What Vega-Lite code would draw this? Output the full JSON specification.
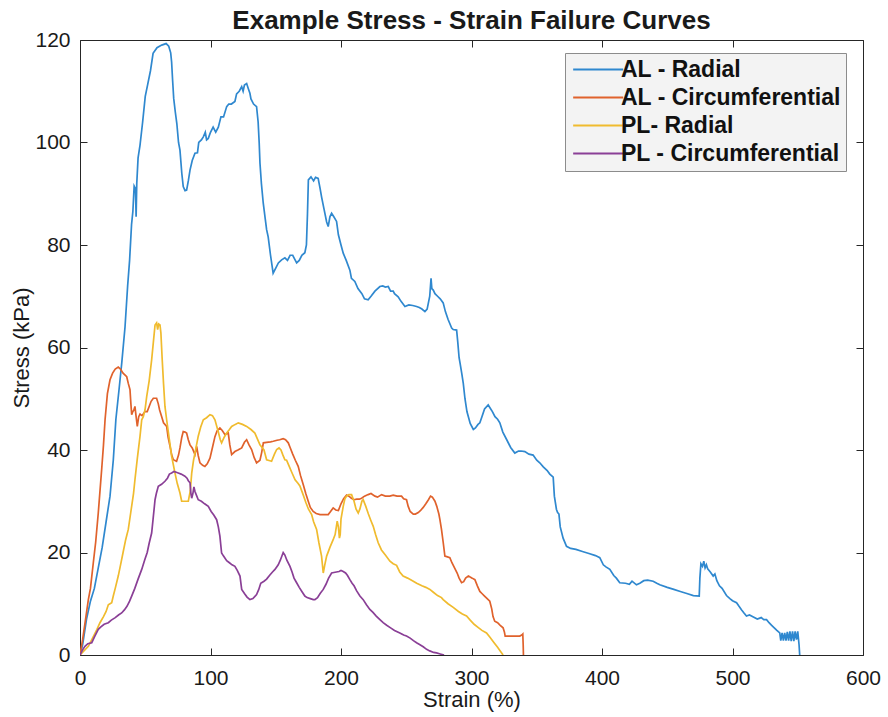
{
"$schema": "https://vega.github.io/schema/vega-lite/v6.json",
"width": 783, "height": 615,
"autosize": {"type": "none"},
"padding": {"left": 80, "top": 40, "right": 25, "bottom": 62},
"background": "white",
"title": {"text": "Example Stress - Strain Failure Curves", "font": "Liberation Sans", "fontSize": 26, "fontWeight": "bold", "color": "#1a1a1a", "anchor": "middle", "offset": 9, "dy": 14},
"config": {
  "view": {"stroke": "#262626", "strokeWidth": 1},
  "axis": {"domain": false, "grid": false, "tickColor": "#262626", "tickSize": -7, "tickWidth": 1, "labelFlush": false,
    "labelFont": "Liberation Sans", "labelFontSize": 21, "labelColor": "#1a1a1a",
    "titleFont": "Liberation Sans", "titleFontSize": 22, "titleFontWeight": "normal", "titleColor": "#1a1a1a"}
},
"data": {"values": [
{"series":"AL - Radial","strain":0,"stress":0},{"series":"AL - Radial","strain":2,"stress":2},{"series":"AL - Radial","strain":5,"stress":7},{"series":"AL - Radial","strain":8,"stress":10.5},{"series":"AL - Radial","strain":11,"stress":13},{"series":"AL - Radial","strain":14,"stress":17},{"series":"AL - Radial","strain":17,"stress":21},{"series":"AL - Radial","strain":20,"stress":26},{"series":"AL - Radial","strain":23,"stress":31},{"series":"AL - Radial","strain":25.5,"stress":38},{"series":"AL - Radial","strain":27.5,"stress":46},{"series":"AL - Radial","strain":30,"stress":52},{"series":"AL - Radial","strain":32,"stress":57},{"series":"AL - Radial","strain":34.5,"stress":64},{"series":"AL - Radial","strain":36.5,"stress":72},{"series":"AL - Radial","strain":38,"stress":77},{"series":"AL - Radial","strain":39.5,"stress":84},{"series":"AL - Radial","strain":40.5,"stress":86.5},{"series":"AL - Radial","strain":41.5,"stress":91.5},{"series":"AL - Radial","strain":42.5,"stress":91},{"series":"AL - Radial","strain":43,"stress":85.5},{"series":"AL - Radial","strain":43.5,"stress":92},{"series":"AL - Radial","strain":44.5,"stress":97},{"series":"AL - Radial","strain":46,"stress":99.5},{"series":"AL - Radial","strain":48,"stress":104},{"series":"AL - Radial","strain":50,"stress":109},{"series":"AL - Radial","strain":52,"stress":111.5},{"series":"AL - Radial","strain":54,"stress":114},{"series":"AL - Radial","strain":56,"stress":117.4},{"series":"AL - Radial","strain":59,"stress":118.5},{"series":"AL - Radial","strain":62.6,"stress":119},{"series":"AL - Radial","strain":66,"stress":119.3},{"series":"AL - Radial","strain":68,"stress":118.8},{"series":"AL - Radial","strain":69.5,"stress":117.5},{"series":"AL - Radial","strain":70.2,"stress":115.7},{"series":"AL - Radial","strain":71,"stress":112},{"series":"AL - Radial","strain":71.8,"stress":108.6},{"series":"AL - Radial","strain":73,"stress":106},{"series":"AL - Radial","strain":74.2,"stress":103.7},{"series":"AL - Radial","strain":75.5,"stress":100},{"series":"AL - Radial","strain":76.6,"stress":98.5},{"series":"AL - Radial","strain":78,"stress":94},{"series":"AL - Radial","strain":79.1,"stress":91.4},{"series":"AL - Radial","strain":80.5,"stress":90.6},{"series":"AL - Radial","strain":81.7,"stress":90.7},{"series":"AL - Radial","strain":83,"stress":92.5},{"series":"AL - Radial","strain":84.3,"stress":94.6},{"series":"AL - Radial","strain":86,"stress":96.5},{"series":"AL - Radial","strain":88.1,"stress":97.9},{"series":"AL - Radial","strain":90,"stress":98},{"series":"AL - Radial","strain":91,"stress":100},{"series":"AL - Radial","strain":93,"stress":100.5},{"series":"AL - Radial","strain":94.5,"stress":101.1},{"series":"AL - Radial","strain":96,"stress":102},{"series":"AL - Radial","strain":97,"stress":100.5},{"series":"AL - Radial","strain":98.3,"stress":100.8},{"series":"AL - Radial","strain":100,"stress":102},{"series":"AL - Radial","strain":102,"stress":103},{"series":"AL - Radial","strain":104,"stress":102},{"series":"AL - Radial","strain":106,"stress":103},{"series":"AL - Radial","strain":108,"stress":105},{"series":"AL - Radial","strain":110,"stress":105},{"series":"AL - Radial","strain":112.4,"stress":107},{"series":"AL - Radial","strain":114,"stress":107.5},{"series":"AL - Radial","strain":116,"stress":107.5},{"series":"AL - Radial","strain":118.7,"stress":108},{"series":"AL - Radial","strain":120,"stress":109.5},{"series":"AL - Radial","strain":122,"stress":110},{"series":"AL - Radial","strain":123.9,"stress":110.9},{"series":"AL - Radial","strain":125,"stress":110},{"series":"AL - Radial","strain":126,"stress":111.2},{"series":"AL - Radial","strain":127.7,"stress":111.5},{"series":"AL - Radial","strain":129,"stress":110.5},{"series":"AL - Radial","strain":130.2,"stress":109.6},{"series":"AL - Radial","strain":131,"stress":108.5},{"series":"AL - Radial","strain":133,"stress":107.5},{"series":"AL - Radial","strain":135.3,"stress":107},{"series":"AL - Radial","strain":136.5,"stress":104},{"series":"AL - Radial","strain":137.3,"stress":100},{"series":"AL - Radial","strain":137.9,"stress":96},{"series":"AL - Radial","strain":139,"stress":92},{"series":"AL - Radial","strain":140.4,"stress":88.2},{"series":"AL - Radial","strain":142,"stress":85},{"series":"AL - Radial","strain":143,"stress":83},{"series":"AL - Radial","strain":144.2,"stress":81.6},{"series":"AL - Radial","strain":146,"stress":78},{"series":"AL - Radial","strain":148,"stress":74.5},{"series":"AL - Radial","strain":150,"stress":75.5},{"series":"AL - Radial","strain":152,"stress":76.5},{"series":"AL - Radial","strain":154.5,"stress":77.1},{"series":"AL - Radial","strain":157,"stress":77.5},{"series":"AL - Radial","strain":159,"stress":77},{"series":"AL - Radial","strain":161,"stress":78},{"series":"AL - Radial","strain":163,"stress":78},{"series":"AL - Radial","strain":165,"stress":77},{"series":"AL - Radial","strain":166,"stress":76.5},{"series":"AL - Radial","strain":168,"stress":77},{"series":"AL - Radial","strain":170,"stress":78},{"series":"AL - Radial","strain":172.3,"stress":78.5},{"series":"AL - Radial","strain":173.5,"stress":80},{"series":"AL - Radial","strain":174.3,"stress":86},{"series":"AL - Radial","strain":175,"stress":92.7},{"series":"AL - Radial","strain":177,"stress":93.3},{"series":"AL - Radial","strain":179,"stress":92.5},{"series":"AL - Radial","strain":180.5,"stress":93.2},{"series":"AL - Radial","strain":182.5,"stress":93},{"series":"AL - Radial","strain":184,"stress":91},{"series":"AL - Radial","strain":185.1,"stress":89.4},{"series":"AL - Radial","strain":187,"stress":87},{"series":"AL - Radial","strain":189,"stress":84.5},{"series":"AL - Radial","strain":190.2,"stress":83.6},{"series":"AL - Radial","strain":191.5,"stress":85.5},{"series":"AL - Radial","strain":192.8,"stress":86.2},{"series":"AL - Radial","strain":194.5,"stress":85.5},{"series":"AL - Radial","strain":196.6,"stress":84.6},{"series":"AL - Radial","strain":198,"stress":82},{"series":"AL - Radial","strain":200,"stress":80},{"series":"AL - Radial","strain":201.7,"stress":78.4},{"series":"AL - Radial","strain":204,"stress":77},{"series":"AL - Radial","strain":206.8,"stress":75.1},{"series":"AL - Radial","strain":208,"stress":73.5},{"series":"AL - Radial","strain":210.6,"stress":72.9},{"series":"AL - Radial","strain":213,"stress":71.5},{"series":"AL - Radial","strain":216,"stress":70.5},{"series":"AL - Radial","strain":218,"stress":69.5},{"series":"AL - Radial","strain":220.8,"stress":69.3},{"series":"AL - Radial","strain":223,"stress":70},{"series":"AL - Radial","strain":226,"stress":71},{"series":"AL - Radial","strain":229.8,"stress":71.9},{"series":"AL - Radial","strain":232,"stress":72},{"series":"AL - Radial","strain":234,"stress":71.8},{"series":"AL - Radial","strain":236.2,"stress":71.9},{"series":"AL - Radial","strain":238,"stress":71},{"series":"AL - Radial","strain":240,"stress":71},{"series":"AL - Radial","strain":241,"stress":70.5},{"series":"AL - Radial","strain":243.8,"stress":69.9},{"series":"AL - Radial","strain":246,"stress":69},{"series":"AL - Radial","strain":249,"stress":68},{"series":"AL - Radial","strain":252,"stress":68.3},{"series":"AL - Radial","strain":255,"stress":68.2},{"series":"AL - Radial","strain":257.9,"stress":68},{"series":"AL - Radial","strain":260,"stress":67.8},{"series":"AL - Radial","strain":262,"stress":67.5},{"series":"AL - Radial","strain":264.3,"stress":67},{"series":"AL - Radial","strain":266,"stress":67.5},{"series":"AL - Radial","strain":268,"stress":70},{"series":"AL - Radial","strain":269,"stress":73.5},{"series":"AL - Radial","strain":269.6,"stress":71.5},{"series":"AL - Radial","strain":270.7,"stress":71.2},{"series":"AL - Radial","strain":272,"stress":70.5},{"series":"AL - Radial","strain":274,"stress":70},{"series":"AL - Radial","strain":276,"stress":69.5},{"series":"AL - Radial","strain":278.3,"stress":68.7},{"series":"AL - Radial","strain":280,"stress":67},{"series":"AL - Radial","strain":282,"stress":65.5},{"series":"AL - Radial","strain":284.8,"stress":63.8},{"series":"AL - Radial","strain":286,"stress":63.5},{"series":"AL - Radial","strain":288.6,"stress":63.4},{"series":"AL - Radial","strain":289.5,"stress":61},{"series":"AL - Radial","strain":290.5,"stress":58},{"series":"AL - Radial","strain":291.2,"stress":57},{"series":"AL - Radial","strain":292.5,"stress":55},{"series":"AL - Radial","strain":293.7,"stress":53},{"series":"AL - Radial","strain":295,"stress":50},{"series":"AL - Radial","strain":296.5,"stress":47.5},{"series":"AL - Radial","strain":297.6,"stress":46.5},{"series":"AL - Radial","strain":299,"stress":45.2},{"series":"AL - Radial","strain":301.4,"stress":44},{"series":"AL - Radial","strain":303,"stress":44.3},{"series":"AL - Radial","strain":305,"stress":45},{"series":"AL - Radial","strain":306.4,"stress":45.3},{"series":"AL - Radial","strain":308,"stress":46.5},{"series":"AL - Radial","strain":310,"stress":48},{"series":"AL - Radial","strain":312.8,"stress":48.8},{"series":"AL - Radial","strain":314,"stress":48.3},{"series":"AL - Radial","strain":316,"stress":47.5},{"series":"AL - Radial","strain":318,"stress":46.5},{"series":"AL - Radial","strain":320,"stress":46},{"series":"AL - Radial","strain":321.7,"stress":45.3},{"series":"AL - Radial","strain":324,"stress":43.5},{"series":"AL - Radial","strain":327,"stress":42},{"series":"AL - Radial","strain":330,"stress":40.5},{"series":"AL - Radial","strain":333.2,"stress":39.4},{"series":"AL - Radial","strain":336,"stress":39.8},{"series":"AL - Radial","strain":338,"stress":39.8},{"series":"AL - Radial","strain":340.9,"stress":39.7},{"series":"AL - Radial","strain":344,"stress":39.2},{"series":"AL - Radial","strain":347.2,"stress":39},{"series":"AL - Radial","strain":350,"stress":38},{"series":"AL - Radial","strain":352.3,"stress":37.5},{"series":"AL - Radial","strain":355,"stress":36.7},{"series":"AL - Radial","strain":358,"stress":36},{"series":"AL - Radial","strain":360,"stress":35.3},{"series":"AL - Radial","strain":362.6,"stress":34.7},{"series":"AL - Radial","strain":363.5,"stress":31},{"series":"AL - Radial","strain":365.1,"stress":28.4},{"series":"AL - Radial","strain":366,"stress":27.8},{"series":"AL - Radial","strain":367,"stress":27.5},{"series":"AL - Radial","strain":368,"stress":25},{"series":"AL - Radial","strain":370.2,"stress":22.8},{"series":"AL - Radial","strain":372.8,"stress":21.2},{"series":"AL - Radial","strain":376,"stress":20.8},{"series":"AL - Radial","strain":380,"stress":20.6},{"series":"AL - Radial","strain":385,"stress":20.2},{"series":"AL - Radial","strain":390,"stress":19.8},{"series":"AL - Radial","strain":395,"stress":19.4},{"series":"AL - Radial","strain":398.3,"stress":19},{"series":"AL - Radial","strain":401,"stress":17.6},{"series":"AL - Radial","strain":403,"stress":17.2},{"series":"AL - Radial","strain":406,"stress":16.7},{"series":"AL - Radial","strain":409,"stress":15.5},{"series":"AL - Radial","strain":411,"stress":15},{"series":"AL - Radial","strain":413.6,"stress":14.1},{"series":"AL - Radial","strain":418,"stress":14},{"series":"AL - Radial","strain":421,"stress":13.8},{"series":"AL - Radial","strain":423,"stress":14.4},{"series":"AL - Radial","strain":426.4,"stress":13.7},{"series":"AL - Radial","strain":429,"stress":14},{"series":"AL - Radial","strain":432,"stress":14.5},{"series":"AL - Radial","strain":435,"stress":14.6},{"series":"AL - Radial","strain":439.2,"stress":14.4},{"series":"AL - Radial","strain":442,"stress":14},{"series":"AL - Radial","strain":444.3,"stress":13.7},{"series":"AL - Radial","strain":450,"stress":13.2},{"series":"AL - Radial","strain":455,"stress":12.8},{"series":"AL - Radial","strain":460,"stress":12.4},{"series":"AL - Radial","strain":465,"stress":12},{"series":"AL - Radial","strain":470,"stress":11.6},{"series":"AL - Radial","strain":474.5,"stress":11.5},{"series":"AL - Radial","strain":475,"stress":15},{"series":"AL - Radial","strain":475.8,"stress":17.8},{"series":"AL - Radial","strain":477,"stress":17.3},{"series":"AL - Radial","strain":478,"stress":18.3},{"series":"AL - Radial","strain":479,"stress":17},{"series":"AL - Radial","strain":480,"stress":17.6},{"series":"AL - Radial","strain":481,"stress":16.8},{"series":"AL - Radial","strain":483,"stress":16.2},{"series":"AL - Radial","strain":485.2,"stress":15.4},{"series":"AL - Radial","strain":486.5,"stress":15.8},{"series":"AL - Radial","strain":488,"stress":14.5},{"series":"AL - Radial","strain":490,"stress":13.5},{"series":"AL - Radial","strain":492,"stress":13},{"series":"AL - Radial","strain":495.4,"stress":11.6},{"series":"AL - Radial","strain":498,"stress":11},{"series":"AL - Radial","strain":500,"stress":10.6},{"series":"AL - Radial","strain":503.1,"stress":10.2},{"series":"AL - Radial","strain":505,"stress":9.5},{"series":"AL - Radial","strain":507,"stress":8.8},{"series":"AL - Radial","strain":508.5,"stress":8.3},{"series":"AL - Radial","strain":510.7,"stress":7.6},{"series":"AL - Radial","strain":513,"stress":7.8},{"series":"AL - Radial","strain":516,"stress":7.4},{"series":"AL - Radial","strain":519,"stress":7},{"series":"AL - Radial","strain":522,"stress":7.3},{"series":"AL - Radial","strain":524,"stress":6.9},{"series":"AL - Radial","strain":526.1,"stress":6.9},{"series":"AL - Radial","strain":528,"stress":6.3},{"series":"AL - Radial","strain":530,"stress":5.8},{"series":"AL - Radial","strain":532,"stress":5.3},{"series":"AL - Radial","strain":534,"stress":4.8},{"series":"AL - Radial","strain":536.2,"stress":4.3},{"series":"AL - Radial","strain":537,"stress":2.8},{"series":"AL - Radial","strain":538,"stress":4.3},{"series":"AL - Radial","strain":539,"stress":2.8},{"series":"AL - Radial","strain":540,"stress":4.3},{"series":"AL - Radial","strain":541,"stress":2.8},{"series":"AL - Radial","strain":542,"stress":4.5},{"series":"AL - Radial","strain":543,"stress":2.8},{"series":"AL - Radial","strain":544,"stress":4.6},{"series":"AL - Radial","strain":545,"stress":2.7},{"series":"AL - Radial","strain":546,"stress":4.6},{"series":"AL - Radial","strain":547,"stress":2.7},{"series":"AL - Radial","strain":548,"stress":4.6},{"series":"AL - Radial","strain":549,"stress":3},{"series":"AL - Radial","strain":550,"stress":4.6},{"series":"AL - Radial","strain":551,"stress":2},{"series":"AL - Radial","strain":551.5,"stress":0},
{"series":"AL - Circumferential","strain":0,"stress":0},{"series":"AL - Circumferential","strain":2,"stress":3},{"series":"AL - Circumferential","strain":4,"stress":6.5},{"series":"AL - Circumferential","strain":6.4,"stress":10.8},{"series":"AL - Circumferential","strain":8,"stress":13},{"series":"AL - Circumferential","strain":10.2,"stress":18},{"series":"AL - Circumferential","strain":12,"stress":22},{"series":"AL - Circumferential","strain":14,"stress":27.7},{"series":"AL - Circumferential","strain":16.6,"stress":36.2},{"series":"AL - Circumferential","strain":18,"stress":41},{"series":"AL - Circumferential","strain":19.2,"stress":45.9},{"series":"AL - Circumferential","strain":21,"stress":51},{"series":"AL - Circumferential","strain":23,"stress":53.7},{"series":"AL - Circumferential","strain":25,"stress":55},{"series":"AL - Circumferential","strain":27,"stress":55.8},{"series":"AL - Circumferential","strain":29.3,"stress":56.2},{"series":"AL - Circumferential","strain":31,"stress":55.8},{"series":"AL - Circumferential","strain":33,"stress":55},{"series":"AL - Circumferential","strain":35.8,"stress":54.3},{"series":"AL - Circumferential","strain":37,"stress":53},{"series":"AL - Circumferential","strain":38.3,"stress":51.8},{"series":"AL - Circumferential","strain":39,"stress":49},{"series":"AL - Circumferential","strain":39.6,"stress":46.9},{"series":"AL - Circumferential","strain":40.5,"stress":47.5},{"series":"AL - Circumferential","strain":41.3,"stress":47.8},{"series":"AL - Circumferential","strain":42.1,"stress":48.5},{"series":"AL - Circumferential","strain":43,"stress":46.5},{"series":"AL - Circumferential","strain":43.9,"stress":44.6},{"series":"AL - Circumferential","strain":45,"stress":46.5},{"series":"AL - Circumferential","strain":46,"stress":47},{"series":"AL - Circumferential","strain":47.5,"stress":46.7},{"series":"AL - Circumferential","strain":49.8,"stress":47.5},{"series":"AL - Circumferential","strain":51.5,"stress":47.5},{"series":"AL - Circumferential","strain":53,"stress":48.5},{"series":"AL - Circumferential","strain":54.5,"stress":49.5},{"series":"AL - Circumferential","strain":56.2,"stress":50.1},{"series":"AL - Circumferential","strain":58.7,"stress":50.1},{"series":"AL - Circumferential","strain":60,"stress":49},{"series":"AL - Circumferential","strain":61,"stress":47.8},{"series":"AL - Circumferential","strain":62.6,"stress":46.5},{"series":"AL - Circumferential","strain":64,"stress":45.3},{"series":"AL - Circumferential","strain":66.4,"stress":44.6},{"series":"AL - Circumferential","strain":67.5,"stress":42.5},{"series":"AL - Circumferential","strain":69,"stress":40.7},{"series":"AL - Circumferential","strain":70.3,"stress":39},{"series":"AL - Circumferential","strain":71.5,"stress":38.1},{"series":"AL - Circumferential","strain":74,"stress":37.8},{"series":"AL - Circumferential","strain":75.5,"stress":39},{"series":"AL - Circumferential","strain":76.6,"stress":40.4},{"series":"AL - Circumferential","strain":78,"stress":42.5},{"series":"AL - Circumferential","strain":79.1,"stress":43.6},{"series":"AL - Circumferential","strain":80.5,"stress":43.5},{"series":"AL - Circumferential","strain":81.7,"stress":43.3},{"series":"AL - Circumferential","strain":83,"stress":42},{"series":"AL - Circumferential","strain":84.3,"stress":41},{"series":"AL - Circumferential","strain":86,"stress":40.4},{"series":"AL - Circumferential","strain":88.1,"stress":39.1},{"series":"AL - Circumferential","strain":89.4,"stress":40.7},{"series":"AL - Circumferential","strain":90.5,"stress":39},{"series":"AL - Circumferential","strain":91.9,"stress":37.5},{"series":"AL - Circumferential","strain":94,"stress":37},{"series":"AL - Circumferential","strain":95.7,"stress":36.8},{"series":"AL - Circumferential","strain":97.5,"stress":37.3},{"series":"AL - Circumferential","strain":99.6,"stress":38.4},{"series":"AL - Circumferential","strain":101.5,"stress":40.5},{"series":"AL - Circumferential","strain":103.4,"stress":42.6},{"series":"AL - Circumferential","strain":105,"stress":43.7},{"series":"AL - Circumferential","strain":107.2,"stress":44.3},{"series":"AL - Circumferential","strain":109,"stress":43.8},{"series":"AL - Circumferential","strain":111.1,"stress":43},{"series":"AL - Circumferential","strain":113.6,"stress":43.3},{"series":"AL - Circumferential","strain":114.8,"stress":41},{"series":"AL - Circumferential","strain":116.2,"stress":39.1},{"series":"AL - Circumferential","strain":118.7,"stress":39.7},{"series":"AL - Circumferential","strain":121,"stress":40},{"series":"AL - Circumferential","strain":123.9,"stress":40.4},{"series":"AL - Circumferential","strain":126,"stress":41.5},{"series":"AL - Circumferential","strain":127.7,"stress":42},{"series":"AL - Circumferential","strain":129.5,"stress":41},{"series":"AL - Circumferential","strain":131.5,"stress":40.1},{"series":"AL - Circumferential","strain":133.5,"stress":38.5},{"series":"AL - Circumferential","strain":135.3,"stress":37.5},{"series":"AL - Circumferential","strain":137.9,"stress":38},{"series":"AL - Circumferential","strain":139.2,"stress":39.5},{"series":"AL - Circumferential","strain":140.5,"stress":41.4},{"series":"AL - Circumferential","strain":143,"stress":41.5},{"series":"AL - Circumferential","strain":146,"stress":41.6},{"series":"AL - Circumferential","strain":148.1,"stress":41.7},{"series":"AL - Circumferential","strain":151,"stress":41.9},{"series":"AL - Circumferential","strain":153,"stress":42},{"series":"AL - Circumferential","strain":155.7,"stress":42.2},{"series":"AL - Circumferential","strain":157.5,"stress":42},{"series":"AL - Circumferential","strain":159.6,"stress":41.4},{"series":"AL - Circumferential","strain":161,"stress":40.5},{"series":"AL - Circumferential","strain":163,"stress":39.2},{"series":"AL - Circumferential","strain":165,"stress":38},{"series":"AL - Circumferential","strain":167.2,"stress":36.8},{"series":"AL - Circumferential","strain":169,"stress":35},{"series":"AL - Circumferential","strain":171.1,"stress":33.2},{"series":"AL - Circumferential","strain":173,"stress":31.5},{"series":"AL - Circumferential","strain":174.9,"stress":30},{"series":"AL - Circumferential","strain":176.5,"stress":28.8},{"series":"AL - Circumferential","strain":178.7,"stress":28},{"series":"AL - Circumferential","strain":181,"stress":27.6},{"series":"AL - Circumferential","strain":184,"stress":27.4},{"series":"AL - Circumferential","strain":186.4,"stress":27.4},{"series":"AL - Circumferential","strain":188,"stress":27.4},{"series":"AL - Circumferential","strain":190.2,"stress":27.4},{"series":"AL - Circumferential","strain":192,"stress":28},{"series":"AL - Circumferential","strain":194,"stress":28.7},{"series":"AL - Circumferential","strain":196,"stress":28.3},{"series":"AL - Circumferential","strain":198,"stress":28.2},{"series":"AL - Circumferential","strain":200,"stress":29.5},{"series":"AL - Circumferential","strain":202,"stress":30.5},{"series":"AL - Circumferential","strain":204.3,"stress":31.2},{"series":"AL - Circumferential","strain":206,"stress":31},{"series":"AL - Circumferential","strain":208,"stress":30.6},{"series":"AL - Circumferential","strain":210,"stress":30.3},{"series":"AL - Circumferential","strain":212,"stress":30.4},{"series":"AL - Circumferential","strain":214,"stress":30.4},{"series":"AL - Circumferential","strain":215.8,"stress":30.6},{"series":"AL - Circumferential","strain":218,"stress":31},{"series":"AL - Circumferential","strain":220.8,"stress":31.3},{"series":"AL - Circumferential","strain":223,"stress":31.5},{"series":"AL - Circumferential","strain":226,"stress":31},{"series":"AL - Circumferential","strain":228,"stress":30.8},{"series":"AL - Circumferential","strain":231.1,"stress":31.3},{"series":"AL - Circumferential","strain":234,"stress":31},{"series":"AL - Circumferential","strain":237.4,"stress":31},{"series":"AL - Circumferential","strain":240,"stress":31.2},{"series":"AL - Circumferential","strain":243,"stress":31},{"series":"AL - Circumferential","strain":246.4,"stress":31},{"series":"AL - Circumferential","strain":248,"stress":30.5},{"series":"AL - Circumferential","strain":250.2,"stress":30.3},{"series":"AL - Circumferential","strain":251.5,"stress":29},{"series":"AL - Circumferential","strain":253,"stress":28},{"series":"AL - Circumferential","strain":255.4,"stress":27.5},{"series":"AL - Circumferential","strain":257,"stress":27.5},{"series":"AL - Circumferential","strain":259.2,"stress":27.8},{"series":"AL - Circumferential","strain":261,"stress":28.2},{"series":"AL - Circumferential","strain":263,"stress":28.8},{"series":"AL - Circumferential","strain":265,"stress":29.5},{"series":"AL - Circumferential","strain":267,"stress":30.3},{"series":"AL - Circumferential","strain":268.6,"stress":31},{"series":"AL - Circumferential","strain":270,"stress":30.8},{"series":"AL - Circumferential","strain":272,"stress":30},{"series":"AL - Circumferential","strain":273.4,"stress":29},{"series":"AL - Circumferential","strain":275,"stress":27.5},{"series":"AL - Circumferential","strain":275.8,"stress":26.4},{"series":"AL - Circumferential","strain":277,"stress":24.5},{"series":"AL - Circumferential","strain":278.3,"stress":22},{"series":"AL - Circumferential","strain":279.6,"stress":19.3},{"series":"AL - Circumferential","strain":281,"stress":19.2},{"series":"AL - Circumferential","strain":283.4,"stress":19},{"series":"AL - Circumferential","strain":285,"stress":18},{"series":"AL - Circumferential","strain":287,"stress":17},{"series":"AL - Circumferential","strain":289,"stress":16},{"series":"AL - Circumferential","strain":290.5,"stress":15},{"series":"AL - Circumferential","strain":292.4,"stress":14.1},{"series":"AL - Circumferential","strain":294,"stress":14.3},{"series":"AL - Circumferential","strain":295.5,"stress":15},{"series":"AL - Circumferential","strain":297.6,"stress":15.4},{"series":"AL - Circumferential","strain":299,"stress":15.2},{"series":"AL - Circumferential","strain":300.5,"stress":15},{"series":"AL - Circumferential","strain":302.6,"stress":14.7},{"series":"AL - Circumferential","strain":304.5,"stress":13.5},{"series":"AL - Circumferential","strain":306.4,"stress":12.4},{"series":"AL - Circumferential","strain":308,"stress":12},{"series":"AL - Circumferential","strain":310,"stress":11.5},{"series":"AL - Circumferential","strain":312,"stress":11},{"series":"AL - Circumferential","strain":314,"stress":10.5},{"series":"AL - Circumferential","strain":315.5,"stress":9},{"series":"AL - Circumferential","strain":316.5,"stress":7.5},{"series":"AL - Circumferential","strain":317.8,"stress":6.6},{"series":"AL - Circumferential","strain":320,"stress":6.3},{"series":"AL - Circumferential","strain":322,"stress":5.8},{"series":"AL - Circumferential","strain":324.2,"stress":5.3},{"series":"AL - Circumferential","strain":325.2,"stress":4.5},{"series":"AL - Circumferential","strain":325.8,"stress":3.7},{"series":"AL - Circumferential","strain":328,"stress":3.7},{"series":"AL - Circumferential","strain":331,"stress":3.7},{"series":"AL - Circumferential","strain":334,"stress":3.7},{"series":"AL - Circumferential","strain":337,"stress":3.7},{"series":"AL - Circumferential","strain":338.5,"stress":3.9},{"series":"AL - Circumferential","strain":339.3,"stress":4.1},{"series":"AL - Circumferential","strain":339.6,"stress":2},{"series":"AL - Circumferential","strain":339.8,"stress":0},
{"series":"PL- Radial","strain":0,"stress":0},{"series":"PL- Radial","strain":3,"stress":0.8},{"series":"PL- Radial","strain":6.4,"stress":1.7},{"series":"PL- Radial","strain":10,"stress":3.5},{"series":"PL- Radial","strain":13,"stress":5},{"series":"PL- Radial","strain":15.3,"stress":6.3},{"series":"PL- Radial","strain":18,"stress":7.5},{"series":"PL- Radial","strain":20,"stress":8.5},{"series":"PL- Radial","strain":21.7,"stress":9.8},{"series":"PL- Radial","strain":23,"stress":10},{"series":"PL- Radial","strain":24.3,"stress":10.2},{"series":"PL- Radial","strain":25.5,"stress":11.5},{"series":"PL- Radial","strain":27,"stress":13},{"series":"PL- Radial","strain":29.3,"stress":15.4},{"series":"PL- Radial","strain":31,"stress":17.5},{"series":"PL- Radial","strain":33,"stress":20},{"series":"PL- Radial","strain":35,"stress":22.5},{"series":"PL- Radial","strain":37,"stress":24.5},{"series":"PL- Radial","strain":39,"stress":28},{"series":"PL- Radial","strain":41,"stress":31.5},{"series":"PL- Radial","strain":42.1,"stress":34.2},{"series":"PL- Radial","strain":44,"stress":38.5},{"series":"PL- Radial","strain":46,"stress":42.7},{"series":"PL- Radial","strain":47.3,"stress":45.9},{"series":"PL- Radial","strain":48.5,"stress":46.5},{"series":"PL- Radial","strain":49.8,"stress":47.8},{"series":"PL- Radial","strain":51.1,"stress":50.4},{"series":"PL- Radial","strain":53,"stress":53.5},{"series":"PL- Radial","strain":54.9,"stress":57.6},{"series":"PL- Radial","strain":56.2,"stress":61},{"series":"PL- Radial","strain":57.5,"stress":64.4},{"series":"PL- Radial","strain":58.7,"stress":64.8},{"series":"PL- Radial","strain":59.5,"stress":63.5},{"series":"PL- Radial","strain":60.3,"stress":64.6},{"series":"PL- Radial","strain":61.3,"stress":64.4},{"series":"PL- Radial","strain":62,"stress":62.8},{"series":"PL- Radial","strain":63,"stress":57.6},{"series":"PL- Radial","strain":64,"stress":53},{"series":"PL- Radial","strain":65.1,"stress":48.5},{"series":"PL- Radial","strain":66.4,"stress":45.9},{"series":"PL- Radial","strain":68.5,"stress":42},{"series":"PL- Radial","strain":70.2,"stress":38.8},{"series":"PL- Radial","strain":72.8,"stress":35.5},{"series":"PL- Radial","strain":74.5,"stress":33.5},{"series":"PL- Radial","strain":76.6,"stress":31.6},{"series":"PL- Radial","strain":77.9,"stress":30},{"series":"PL- Radial","strain":80,"stress":30},{"series":"PL- Radial","strain":83,"stress":30},{"series":"PL- Radial","strain":84.5,"stress":32},{"series":"PL- Radial","strain":85.6,"stress":35.5},{"series":"PL- Radial","strain":87,"stress":38},{"series":"PL- Radial","strain":88.1,"stress":39.4},{"series":"PL- Radial","strain":90.6,"stress":42.7},{"series":"PL- Radial","strain":92.5,"stress":44.5},{"series":"PL- Radial","strain":94.5,"stress":45.9},{"series":"PL- Radial","strain":97,"stress":46.3},{"series":"PL- Radial","strain":99.6,"stress":46.9},{"series":"PL- Radial","strain":101.5,"stress":46.7},{"series":"PL- Radial","strain":103.4,"stress":45.9},{"series":"PL- Radial","strain":105.9,"stress":43.6},{"series":"PL- Radial","strain":107.5,"stress":42},{"series":"PL- Radial","strain":108.5,"stress":41.4},{"series":"PL- Radial","strain":110.5,"stress":42.5},{"series":"PL- Radial","strain":112.4,"stress":43.3},{"series":"PL- Radial","strain":114.5,"stress":44},{"series":"PL- Radial","strain":116.2,"stress":44.6},{"series":"PL- Radial","strain":119,"stress":45},{"series":"PL- Radial","strain":121.3,"stress":45.3},{"series":"PL- Radial","strain":124.5,"stress":45},{"series":"PL- Radial","strain":127.7,"stress":44.6},{"series":"PL- Radial","strain":131,"stress":44},{"series":"PL- Radial","strain":134,"stress":43.3},{"series":"PL- Radial","strain":137.9,"stress":41},{"series":"PL- Radial","strain":141,"stress":40},{"series":"PL- Radial","strain":143,"stress":38.1},{"series":"PL- Radial","strain":145.5,"stress":37.9},{"series":"PL- Radial","strain":146.8,"stress":37.8},{"series":"PL- Radial","strain":149,"stress":39.2},{"series":"PL- Radial","strain":150.7,"stress":40.1},{"series":"PL- Radial","strain":152.5,"stress":40.4},{"series":"PL- Radial","strain":154,"stress":40},{"series":"PL- Radial","strain":155.5,"stress":39},{"series":"PL- Radial","strain":157,"stress":38.1},{"series":"PL- Radial","strain":158.3,"stress":38},{"series":"PL- Radial","strain":160,"stress":37},{"series":"PL- Radial","strain":162,"stress":35.8},{"series":"PL- Radial","strain":164.8,"stress":34.2},{"series":"PL- Radial","strain":167,"stress":33.5},{"series":"PL- Radial","strain":168.5,"stress":33},{"series":"PL- Radial","strain":171.1,"stress":31.2},{"series":"PL- Radial","strain":173,"stress":29.8},{"series":"PL- Radial","strain":175,"stress":28.5},{"series":"PL- Radial","strain":177.5,"stress":27.4},{"series":"PL- Radial","strain":179,"stress":26},{"series":"PL- Radial","strain":181.3,"stress":24.5},{"series":"PL- Radial","strain":183,"stress":22},{"series":"PL- Radial","strain":185.1,"stress":19.3},{"series":"PL- Radial","strain":186.4,"stress":16},{"series":"PL- Radial","strain":187.5,"stress":17.5},{"series":"PL- Radial","strain":189,"stress":19.3},{"series":"PL- Radial","strain":191.5,"stress":21},{"series":"PL- Radial","strain":194,"stress":22.5},{"series":"PL- Radial","strain":195.5,"stress":23.5},{"series":"PL- Radial","strain":197.1,"stress":26.1},{"series":"PL- Radial","strain":198,"stress":25},{"series":"PL- Radial","strain":198.8,"stress":22.8},{"series":"PL- Radial","strain":199.4,"stress":23.5},{"series":"PL- Radial","strain":200,"stress":26.5},{"series":"PL- Radial","strain":201.7,"stress":29},{"series":"PL- Radial","strain":203,"stress":30.5},{"series":"PL- Radial","strain":204.3,"stress":31},{"series":"PL- Radial","strain":206,"stress":31.3},{"series":"PL- Radial","strain":208.1,"stress":31.3},{"series":"PL- Radial","strain":210,"stress":30},{"series":"PL- Radial","strain":211.5,"stress":28.5},{"series":"PL- Radial","strain":213.2,"stress":27.7},{"series":"PL- Radial","strain":214.5,"stress":28.5},{"series":"PL- Radial","strain":216,"stress":30},{"series":"PL- Radial","strain":217,"stress":30.3},{"series":"PL- Radial","strain":219,"stress":29},{"series":"PL- Radial","strain":221,"stress":27.5},{"series":"PL- Radial","strain":222.8,"stress":26.3},{"series":"PL- Radial","strain":224.7,"stress":25.1},{"series":"PL- Radial","strain":226.5,"stress":23.5},{"series":"PL- Radial","strain":228.5,"stress":21.9},{"series":"PL- Radial","strain":231,"stress":20.5},{"series":"PL- Radial","strain":234,"stress":19.5},{"series":"PL- Radial","strain":237.5,"stress":18.3},{"series":"PL- Radial","strain":240,"stress":17.8},{"series":"PL- Radial","strain":242.6,"stress":17.5},{"series":"PL- Radial","strain":245,"stress":16.2},{"series":"PL- Radial","strain":247.6,"stress":15.4},{"series":"PL- Radial","strain":251,"stress":15},{"series":"PL- Radial","strain":255.4,"stress":14.4},{"series":"PL- Radial","strain":258,"stress":14},{"series":"PL- Radial","strain":262,"stress":13.5},{"series":"PL- Radial","strain":265,"stress":13.2},{"series":"PL- Radial","strain":268.1,"stress":12.8},{"series":"PL- Radial","strain":271,"stress":12.2},{"series":"PL- Radial","strain":274,"stress":11.6},{"series":"PL- Radial","strain":277,"stress":11.2},{"series":"PL- Radial","strain":278.3,"stress":10.8},{"series":"PL- Radial","strain":282,"stress":10},{"series":"PL- Radial","strain":286,"stress":9.3},{"series":"PL- Radial","strain":290,"stress":8.5},{"series":"PL- Radial","strain":293,"stress":8},{"series":"PL- Radial","strain":296.2,"stress":7.6},{"series":"PL- Radial","strain":299,"stress":6.8},{"series":"PL- Radial","strain":302,"stress":6},{"series":"PL- Radial","strain":305,"stress":5.4},{"series":"PL- Radial","strain":308,"stress":4.8},{"series":"PL- Radial","strain":311.5,"stress":4.3},{"series":"PL- Radial","strain":314,"stress":3.5},{"series":"PL- Radial","strain":317,"stress":2.5},{"series":"PL- Radial","strain":320,"stress":1.5},{"series":"PL- Radial","strain":322,"stress":0.8},{"series":"PL- Radial","strain":324.2,"stress":0},
{"series":"PL - Circumferential","strain":0,"stress":0},{"series":"PL - Circumferential","strain":2,"stress":1},{"series":"PL - Circumferential","strain":3.8,"stress":1.7},{"series":"PL - Circumferential","strain":6,"stress":2.2},{"series":"PL - Circumferential","strain":9,"stress":2.4},{"series":"PL - Circumferential","strain":11,"stress":3.5},{"series":"PL - Circumferential","strain":14,"stress":5},{"series":"PL - Circumferential","strain":16,"stress":5.5},{"series":"PL - Circumferential","strain":18.5,"stress":6},{"series":"PL - Circumferential","strain":21.7,"stress":6.3},{"series":"PL - Circumferential","strain":24,"stress":6.8},{"series":"PL - Circumferential","strain":27,"stress":7.3},{"series":"PL - Circumferential","strain":29.5,"stress":7.8},{"series":"PL - Circumferential","strain":31.9,"stress":8.2},{"series":"PL - Circumferential","strain":34,"stress":8.8},{"series":"PL - Circumferential","strain":36,"stress":9.5},{"series":"PL - Circumferential","strain":38,"stress":10.5},{"series":"PL - Circumferential","strain":39.6,"stress":11.5},{"series":"PL - Circumferential","strain":42,"stress":13},{"series":"PL - Circumferential","strain":44.5,"stress":14.8},{"series":"PL - Circumferential","strain":47.3,"stress":16.7},{"series":"PL - Circumferential","strain":49.5,"stress":18.5},{"series":"PL - Circumferential","strain":51.5,"stress":20},{"series":"PL - Circumferential","strain":53,"stress":21.8},{"series":"PL - Circumferential","strain":54.9,"stress":23.8},{"series":"PL - Circumferential","strain":56,"stress":26.5},{"series":"PL - Circumferential","strain":57.5,"stress":30.3},{"series":"PL - Circumferential","strain":58.5,"stress":31.5},{"series":"PL - Circumferential","strain":60,"stress":32.9},{"series":"PL - Circumferential","strain":62.5,"stress":33.3},{"series":"PL - Circumferential","strain":65.1,"stress":33.9},{"series":"PL - Circumferential","strain":67,"stress":34.5},{"series":"PL - Circumferential","strain":68.5,"stress":35.3},{"series":"PL - Circumferential","strain":70.2,"stress":35.5},{"series":"PL - Circumferential","strain":72,"stress":35.8},{"series":"PL - Circumferential","strain":75.3,"stress":35.5},{"series":"PL - Circumferential","strain":77.5,"stress":35.3},{"series":"PL - Circumferential","strain":80.4,"stress":34.9},{"series":"PL - Circumferential","strain":82,"stress":34.5},{"series":"PL - Circumferential","strain":83,"stress":34},{"series":"PL - Circumferential","strain":84.3,"stress":33.6},{"series":"PL - Circumferential","strain":85,"stress":31.5},{"series":"PL - Circumferential","strain":85.6,"stress":30.6},{"series":"PL - Circumferential","strain":86.5,"stress":31.5},{"series":"PL - Circumferential","strain":87.3,"stress":32.8},{"series":"PL - Circumferential","strain":88.1,"stress":31.9},{"series":"PL - Circumferential","strain":89.5,"stress":31},{"series":"PL - Circumferential","strain":90.6,"stress":30.3},{"series":"PL - Circumferential","strain":93,"stress":30},{"series":"PL - Circumferential","strain":95.5,"stress":29.5},{"series":"PL - Circumferential","strain":98.3,"stress":29},{"series":"PL - Circumferential","strain":100.5,"stress":28},{"series":"PL - Circumferential","strain":102.5,"stress":27.3},{"series":"PL - Circumferential","strain":104.7,"stress":26.4},{"series":"PL - Circumferential","strain":106,"stress":25},{"series":"PL - Circumferential","strain":107.2,"stress":23.2},{"series":"PL - Circumferential","strain":108.5,"stress":19.9},{"series":"PL - Circumferential","strain":110,"stress":19.3},{"series":"PL - Circumferential","strain":112.4,"stress":18.4},{"series":"PL - Circumferential","strain":114.5,"stress":18},{"series":"PL - Circumferential","strain":116.5,"stress":17.6},{"series":"PL - Circumferential","strain":118.7,"stress":17.3},{"series":"PL - Circumferential","strain":120.5,"stress":16.5},{"series":"PL - Circumferential","strain":122.6,"stress":15.4},{"series":"PL - Circumferential","strain":123.9,"stress":12.8},{"series":"PL - Circumferential","strain":126,"stress":12},{"series":"PL - Circumferential","strain":128,"stress":11.3},{"series":"PL - Circumferential","strain":130.2,"stress":10.8},{"series":"PL - Circumferential","strain":132.5,"stress":11},{"series":"PL - Circumferential","strain":135.3,"stress":11.8},{"series":"PL - Circumferential","strain":137,"stress":12.8},{"series":"PL - Circumferential","strain":138.5,"stress":14},{"series":"PL - Circumferential","strain":141,"stress":14.4},{"series":"PL - Circumferential","strain":143,"stress":14.8},{"series":"PL - Circumferential","strain":145.5,"stress":15.6},{"series":"PL - Circumferential","strain":147.5,"stress":16.2},{"series":"PL - Circumferential","strain":149.4,"stress":16.7},{"series":"PL - Circumferential","strain":151.9,"stress":17.6},{"series":"PL - Circumferential","strain":153.5,"stress":18.5},{"series":"PL - Circumferential","strain":155.7,"stress":20},{"series":"PL - Circumferential","strain":157,"stress":19.5},{"series":"PL - Circumferential","strain":158.5,"stress":18.5},{"series":"PL - Circumferential","strain":160.9,"stress":17.3},{"series":"PL - Circumferential","strain":162.5,"stress":16.2},{"series":"PL - Circumferential","strain":164,"stress":15},{"series":"PL - Circumferential","strain":166,"stress":14.1},{"series":"PL - Circumferential","strain":168,"stress":13.2},{"series":"PL - Circumferential","strain":170,"stress":12.4},{"series":"PL - Circumferential","strain":172.3,"stress":11.5},{"series":"PL - Circumferential","strain":174,"stress":11.2},{"series":"PL - Circumferential","strain":176.5,"stress":11},{"series":"PL - Circumferential","strain":178.7,"stress":10.8},{"series":"PL - Circumferential","strain":180,"stress":10.8},{"series":"PL - Circumferential","strain":182,"stress":11.2},{"series":"PL - Circumferential","strain":184,"stress":12},{"series":"PL - Circumferential","strain":186.4,"stress":12.8},{"series":"PL - Circumferential","strain":188.5,"stress":13.8},{"series":"PL - Circumferential","strain":190.5,"stress":15},{"series":"PL - Circumferential","strain":192.8,"stress":16},{"series":"PL - Circumferential","strain":194.5,"stress":16.1},{"series":"PL - Circumferential","strain":196.5,"stress":16.2},{"series":"PL - Circumferential","strain":198.5,"stress":16.3},{"series":"PL - Circumferential","strain":200,"stress":16.5},{"series":"PL - Circumferential","strain":201.7,"stress":16.3},{"series":"PL - Circumferential","strain":203.5,"stress":16},{"series":"PL - Circumferential","strain":205,"stress":15.5},{"series":"PL - Circumferential","strain":206.8,"stress":14.7},{"series":"PL - Circumferential","strain":208.5,"stress":14},{"series":"PL - Circumferential","strain":210,"stress":13.5},{"series":"PL - Circumferential","strain":212,"stress":12.5},{"series":"PL - Circumferential","strain":214.5,"stress":11.5},{"series":"PL - Circumferential","strain":217,"stress":10.8},{"series":"PL - Circumferential","strain":219.5,"stress":9.8},{"series":"PL - Circumferential","strain":222.1,"stress":8.9},{"series":"PL - Circumferential","strain":224.5,"stress":8.3},{"series":"PL - Circumferential","strain":227,"stress":7.6},{"series":"PL - Circumferential","strain":229.8,"stress":6.9},{"series":"PL - Circumferential","strain":232.3,"stress":6.3},{"series":"PL - Circumferential","strain":235,"stress":5.8},{"series":"PL - Circumferential","strain":238,"stress":5.3},{"series":"PL - Circumferential","strain":241,"stress":4.8},{"series":"PL - Circumferential","strain":245.1,"stress":4.3},{"series":"PL - Circumferential","strain":248,"stress":3.9},{"series":"PL - Circumferential","strain":250.2,"stress":3.7},{"series":"PL - Circumferential","strain":253,"stress":3.3},{"series":"PL - Circumferential","strain":255.5,"stress":2.8},{"series":"PL - Circumferential","strain":257.9,"stress":2.4},{"series":"PL - Circumferential","strain":260.5,"stress":2},{"series":"PL - Circumferential","strain":263,"stress":1.6},{"series":"PL - Circumferential","strain":265.6,"stress":1.1},{"series":"PL - Circumferential","strain":268,"stress":0.8},{"series":"PL - Circumferential","strain":271,"stress":0.5},{"series":"PL - Circumferential","strain":273.2,"stress":0.4},{"series":"PL - Circumferential","strain":276,"stress":0.2},{"series":"PL - Circumferential","strain":279,"stress":0}
]},
"layer": [
  {
    "mark": {"type": "line", "strokeWidth": 1.7, "clip": true},
    "encoding": {
      "x": {"field": "strain", "type": "quantitative", "scale": {"domain": [0, 600], "nice": false},
            "axis": {"orient": "bottom", "values": [0, 100, 200, 300, 400, 500, 600], "title": "Strain (%)", "labelPadding": 19, "titlePadding": 1}},
      "y": {"field": "stress", "type": "quantitative", "scale": {"domain": [0, 120], "nice": false},
            "axis": {"orient": "left", "values": [0, 20, 40, 60, 80, 100, 120], "title": "Stress (kPa)", "labelPadding": 17, "titlePadding": 1}},
      "color": {"field": "series", "type": "nominal",
        "scale": {"domain": ["AL - Radial", "AL - Circumferential", "PL- Radial", "PL - Circumferential"], "range": ["#2f88cf", "#e0622c", "#f0bb2e", "#8a3f96"]},
        "legend": {"title": null, "orient": "none", "legendX": 485, "legendY": 13, "symbolType": "M-1,0H5", "symbolSize": 278, "symbolStrokeWidth": 1.8,
          "labelFont": "Liberation Sans", "labelFontSize": 23, "labelFontWeight": "bold", "labelColor": "#111111", "labelOffset": 28,
          "fillColor": "#f3f3f3", "strokeColor": "#8c8c8c", "padding": 5, "rowPadding": 4, "labelLimit": 400}}
    }
  },
  {
    "mark": {"type": "line", "opacity": 0},
    "encoding": {
      "x": {"field": "strain", "type": "quantitative", "axis": {"orient": "top", "values": [0, 100, 200, 300, 400, 500, 600], "labels": false, "title": null}},
      "y": {"field": "stress", "type": "quantitative", "axis": {"orient": "right", "values": [0, 20, 40, 60, 80, 100, 120], "labels": false, "title": null}},
      "detail": {"field": "series"}
    }
  }
],
"resolve": {"axis": {"x": "independent", "y": "independent"}}
}
